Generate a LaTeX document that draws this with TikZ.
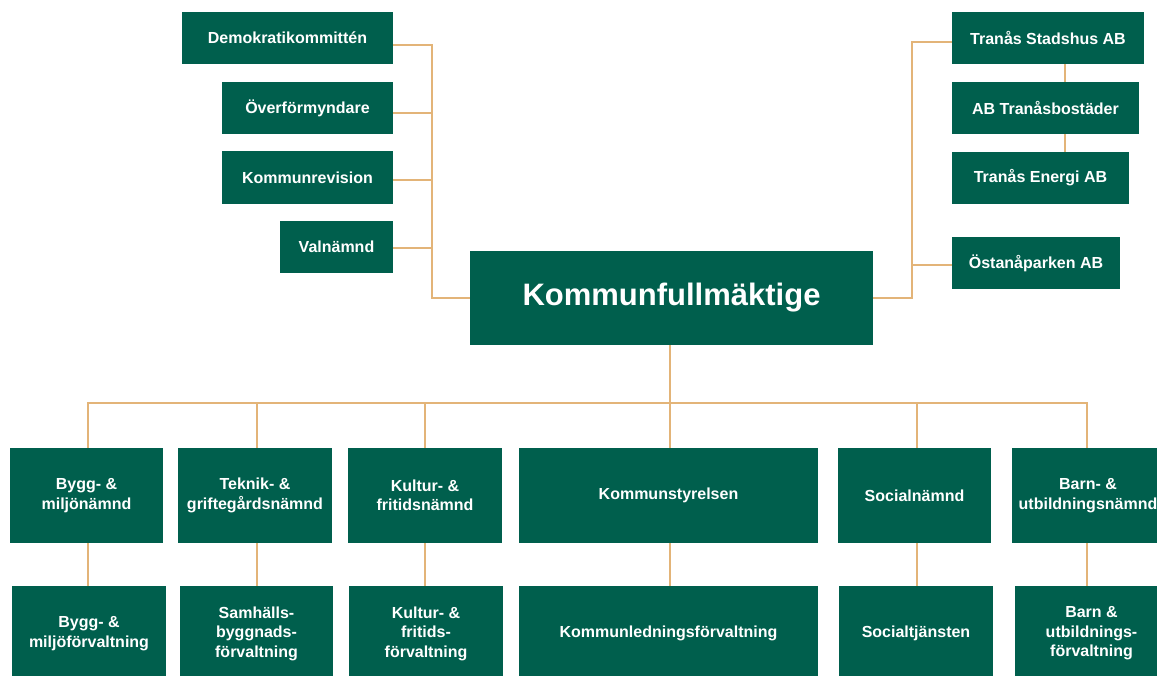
\documentclass[tikz,border=0pt]{standalone}
\usepackage{fontspec}
\setmainfont{Liberation Sans}
\definecolor{boxgreen}{HTML}{005F4D}
\definecolor{linetan}{HTML}{E3B478}
\tikzset{
  orgbox/.style={draw=none, fill=boxgreen, text=white, inner sep=0pt, align=center,
    font=\bfseries\fontsize{16}{19.5}\selectfont},
  conn/.style={draw=linetan, line width=2.6pt}
}
\begin{document}
\begin{tikzpicture}[x=1pt, y=-1pt]
\clip (0,0) rectangle (1157,676);
\fill[white] (0,0) rectangle (1157,676);

% top-left
\node[orgbox, minimum width=211pt, minimum height=52pt] (demo) at (287.5,38) {Demokratikommittén};
\node[orgbox, minimum width=171pt, minimum height=52pt] (over) at (307.5,108) {Överförmyndare};
\node[orgbox, minimum width=171pt, minimum height=53pt] (krev) at (307.5,177.5) {Kommunrevision};
\node[orgbox, minimum width=113pt, minimum height=52pt] (valn) at (336.5,247) {Valnämnd};

% centre
\node[orgbox, minimum width=403pt, minimum height=94pt, font=\bfseries\fontsize{31}{36}\selectfont] (kf) at (671.5,298) {\raisebox{-3pt}{Kommunfullmäktige}};

% top-right
\node[orgbox, minimum width=192pt, minimum height=52pt] (stad) at (1048,38) {Tranås Stadshus AB};
\node[orgbox, minimum width=187pt, minimum height=52pt] (bost) at (1045.5,108) {AB Tranåsbostäder};
\node[orgbox, minimum width=177pt, minimum height=52pt] (energ) at (1040.5,178) {Tranås Energi AB};
\node[orgbox, minimum width=168pt, minimum height=52pt] (ostan) at (1036,263) {Östanåparken AB};

% row 1
\node[orgbox, minimum width=153pt, minimum height=95pt] (n1) at (86.5,495.5) {Bygg- \&\\miljönämnd};
\node[orgbox, minimum width=154pt, minimum height=95pt] (n2) at (255,495.5) {Teknik- \&\\griftegårdsnämnd};
\node[orgbox, minimum width=154pt, minimum height=95pt] (n3) at (425,495.5) {Kultur- \&\\fritidsnämnd};
\node[orgbox, minimum width=299pt, minimum height=95pt] (n4) at (668.5,495.5) {Kommunstyrelsen};
\node[orgbox, minimum width=153pt, minimum height=95pt] (n5) at (914.5,495.5) {Socialnämnd};
\node[orgbox, minimum width=152pt, minimum height=95pt] (n6) at (1088,495.5) {Barn- \&\\utbildningsnämnd};

% row 2
\node[orgbox, minimum width=154pt, minimum height=95pt] (m1) at (89,633.5) {Bygg- \&\\miljöförvaltning};
\node[orgbox, minimum width=153pt, minimum height=95pt] (m2) at (256.5,633.5) {Samhälls-\\byggnads-\\förvaltning};
\node[orgbox, minimum width=154pt, minimum height=95pt] (m3) at (426,633.5) {Kultur- \&\\fritids-\\förvaltning};
\node[orgbox, minimum width=299pt, minimum height=95pt] (m4) at (668.5,633.5) {Kommunledningsförvaltning};
\node[orgbox, minimum width=154pt, minimum height=95pt] (m5) at (916,633.5) {Socialtjänsten};
\node[orgbox, minimum width=153pt, minimum height=95pt] (m6) at (1091.5,633.5) {Barn \&\\utbildnings-\\förvaltning};

% helper coordinates
\coordinate (lbus) at (432,298);
\coordinate (rbus) at (912,298);
\coordinate (rv) at (1065,0);
\coordinate (bus) at (0,403);
\coordinate (x1) at (88,0);
\coordinate (x2) at (257,0);
\coordinate (x3) at (425,0);
\coordinate (x4) at (670,0);
\coordinate (x5) at (917,0);
\coordinate (x6) at (1087,0);

% left connectors
\draw[conn] (kf.west) -- (lbus) |- ([yshift=-7pt]demo.east);
\draw[conn] ([yshift=-5pt]over.east) -- ([yshift=-5pt]over.east -| lbus);
\draw[conn] ([yshift=-2.5pt]krev.east) -- ([yshift=-2.5pt]krev.east -| lbus);
\draw[conn] ([yshift=-1pt]valn.east) -- ([yshift=-1pt]valn.east -| lbus);

% right connectors
\draw[conn] (kf.east) -- (rbus) |- ([yshift=-4pt]stad.west);
\draw[conn] ([yshift=-2pt]ostan.west) -- ([yshift=-2pt]ostan.west -| rbus);
\draw[conn] (stad.south -| rv) -- (bost.north -| rv);
\draw[conn] (bost.south -| rv) -- (energ.north -| rv);

% bottom bus
\draw[conn] (kf.south -| x4) -- (x4 |- bus);
\draw[conn] (n1.north -| x1) -- (x1 |- bus) -- (x6 |- bus) -- (n6.north -| x6);
\draw[conn] (n2.north -| x2) -- (x2 |- bus);
\draw[conn] (n3.north -| x3) -- (x3 |- bus);
\draw[conn] (n4.north -| x4) -- (x4 |- bus);
\draw[conn] (n5.north -| x5) -- (x5 |- bus);

% row 1 to row 2
\draw[conn] (n1.south -| x1) -- (m1.north -| x1);
\draw[conn] (n2.south -| x2) -- (m2.north -| x2);
\draw[conn] (n3.south -| x3) -- (m3.north -| x3);
\draw[conn] (n4.south -| x4) -- (m4.north -| x4);
\draw[conn] (n5.south -| x5) -- (m5.north -| x5);
\draw[conn] (n6.south -| x6) -- (m6.north -| x6);
\end{tikzpicture}
\end{document}
